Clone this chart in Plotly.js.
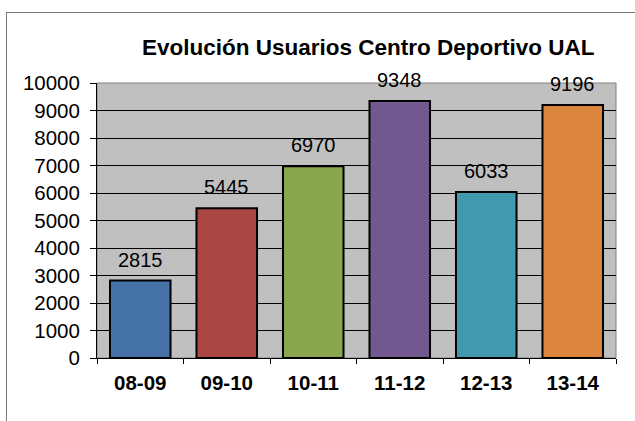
<!DOCTYPE html>
<html>
<head>
<meta charset="utf-8">
<script src="https://cdn.plot.ly/plotly-3.0.1.min.js"></script>
<style>
body{margin:0;padding:0;background:#fff}
#wrap{position:relative;width:635px;height:421px;overflow:hidden}
#chart{position:absolute;left:0;top:0;width:635px;height:421px}
#frame{position:absolute;z-index:50;left:6px;top:12px;width:700px;height:500px;border-top:1px solid #7a7a7a;border-left:1px solid #7a7a7a;pointer-events:none;box-sizing:border-box}
</style>
</head>
<body>
<div id="wrap"><div id="chart"></div><div id="frame"></div></div>
<script>
const categories = ["08-09", "09-10", "10-11", "11-12", "12-13", "13-14"];
const usuarios = [2815, 5445, 6970, 9348, 6033, 9196];
const barColors = ["#4572A7", "#AA4643", "#89A54E", "#71588F", "#4198AF", "#DB843D"];
const yTicks = [0, 1000, 2000, 3000, 4000, 5000, 6000, 7000, 8000, 9000, 10000];
const titleText = "Evolución Usuarios Centro Deportivo UAL";

const FONT = "Arial, 'Liberation Sans', sans-serif";

const trace = {
  type: "bar",
  x: categories,
  y: usuarios,
  marker: { color: barColors, line: { color: "#000000", width: 2 } },
  hoverinfo: "none"
};

const annotations = categories.map((c, i) => ({
  x: c, y: usuarios[i], xref: "x", yref: "y",
  text: String(usuarios[i]), showarrow: false,
  yanchor: "bottom", yshift: 8,
  font: { family: FONT, size: 20, color: "#000" }
}));

const layout = {
  width: 635, height: 421,
  margin: { l: 97, r: 19, t: 83, b: 63 },
  paper_bgcolor: "#ffffff",
  plot_bgcolor: "#C0C0C0",
  showlegend: false,
  bargap: 0.3,
  title: {
    text: "<b>" + titleText + "</b>",
    font: { family: FONT, size: 22.5, color: "#000" },
    xref: "container", yref: "container",
    x: 0.580, y: 1 - 47 / 421, xanchor: "center", yanchor: "middle"
  },
  xaxis: {
    type: "category",
    showline: true, linecolor: "#000", linewidth: 1,
    ticks: "outside", tickson: "boundaries", ticklen: 5, tickcolor: "#000",
    tickfont: { family: FONT, size: 20.5, color: "#000", weight: "bold" },
    ticklabelstandoff: 6,
    showgrid: false, fixedrange: true
  },
  yaxis: {
    range: [0, 10000],
    tickvals: yTicks,
    ticktext: yTicks.map(String),
    showline: true, linecolor: "#000", linewidth: 1,
    ticks: "outside", ticklen: 6, tickcolor: "#000",
    tickfont: { family: FONT, size: 20.5, color: "#000" },
    ticklabelstandoff: 6,
    showgrid: true, gridcolor: "#000", gridwidth: 1,
    zeroline: false, fixedrange: true
  },
  annotations: annotations,
  shapes: [
    { type: "rect", xref: "paper", yref: "paper", x0: 0, x1: 1, y0: 0, y1: 1,
      line: { color: "#808080", width: 1 }, layer: "below" }
  ]
};

Plotly.newPlot("chart", [trace], layout, { displayModeBar: false, staticPlot: true });
</script>
</body>
</html>
